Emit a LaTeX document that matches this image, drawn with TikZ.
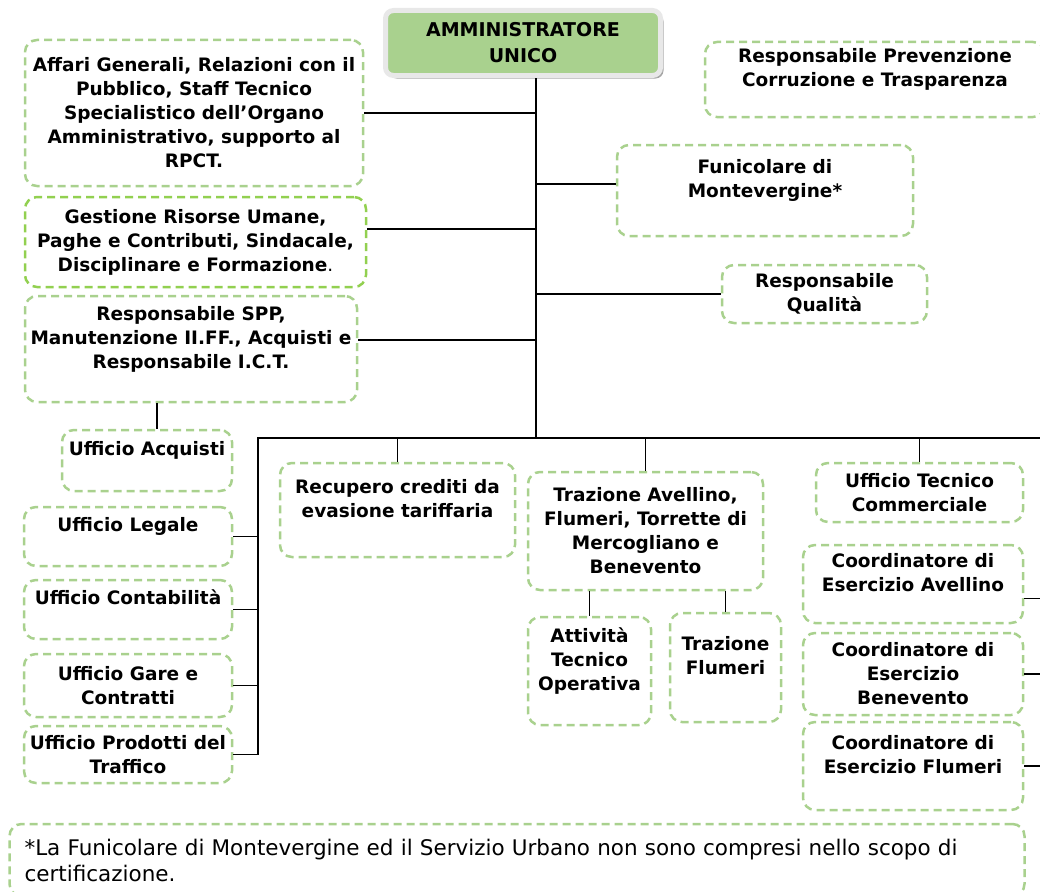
\documentclass[tikz,border=0pt]{standalone}
\usepackage{fontspec}
\setmainfont{DejaVu Sans}
\usetikzlibrary{positioning,calc,shadows}
\definecolor{unitgreen}{RGB}{169,209,142}
\definecolor{brightgreen}{RGB}{146,208,80}
\definecolor{framegray}{RGB}{232,232,232}
\definecolor{shadegray}{RGB}{165,165,165}

\begin{document}
\begin{tikzpicture}[x=1pt, y=-1pt,
    unit/.style={draw=unitgreen, line width=2.5pt, dash pattern=on 8pt off 5pt,
      rounded corners=12pt, align=center, inner sep=0pt,
      font=\fontsize{18.5}{24}\selectfont\bfseries},
    link/.style={line width=1.8pt}]
    \useasboundingbox (0,0) rectangle (1040,891);

    % head of the company
    \node[draw=framegray, fill=unitgreen, line width=5pt, rounded corners=8pt,
      minimum width=275, minimum height=65, align=center,
      font=\fontsize{19}{26}\selectfont\bfseries,
      drop shadow={shadow xshift=3pt, shadow yshift=-3pt, fill=shadegray, opacity=1}]
      (admin) at (523,43) {AMMINISTRATORE\\UNICO};

    % staff units
    \node[unit, minimum width=338, minimum height=146] (affari) at (194,113)
      {Affari Generali, Relazioni con il\\Pubblico, Staff Tecnico\\Specialistico dell’Organo\\Amministrativo, supporto al\\RPCT.};
    \node[unit, draw=brightgreen, minimum width=341, minimum height=90] (gestione) at (195.5,242)
      {Gestione Risorse Umane,\\Paghe e Contributi, Sindacale,\\Disciplinare e Formazione\textmd{.}};
    \node[unit, minimum width=332, minimum height=106] (spp) at (191,349)
      {Responsabile SPP,\\Manutenzione II.FF., Acquisti e\\Responsabile I.C.T.\\\mbox{}};
    \node[unit, minimum width=170, minimum height=61] (acquisti) at (147,460.5)
      {Ufficio Acquisti\\\mbox{}};
    \node[unit, minimum width=340, minimum height=75] (rpct) at (875,79.5)
      {Responsabile Prevenzione\\Corruzione e Trasparenza\\\mbox{}};
    \node[unit, minimum width=296, minimum height=91] (funicolare) at (765,190.5)
      {Funicolare di\\Montevergine*\\\mbox{}};
    \node[unit, minimum width=205, minimum height=58] (qualita) at (824.5,294)
      {Responsabile\\Qualità};

    % line units
    \node[unit, minimum width=235, minimum height=94] (recupero) at (397.5,510)
      {Recupero crediti da\\evasione tariffaria\\\mbox{}};
    \node[unit, minimum width=235, minimum height=118] (trazav) at (645.5,531)
      {Trazione Avellino,\\Flumeri, Torrette di\\Mercogliano e\\Benevento};
    \node[unit, minimum width=123, minimum height=108] (attivita) at (589.5,671)
      {Attività\\Tecnico\\Operativa\\\mbox{}};
    \node[unit, minimum width=111, minimum height=109] (trazfl) at (725.5,667.5)
      {Trazione\\Flumeri\\\mbox{}};
    \node[unit, minimum width=207, minimum height=59] (utc) at (919.5,492.5)
      {Ufficio Tecnico\\Commerciale};
    \node[unit, minimum width=220, minimum height=78] (coordav) at (913,584)
      {Coordinatore di\\Esercizio Avellino\\\mbox{}};
    \node[unit, minimum width=220, minimum height=82] (coordbn) at (913,674)
      {Coordinatore di\\Esercizio\\Benevento};
    \node[unit, minimum width=220, minimum height=88] (coordfl) at (913,766)
      {Coordinatore di\\Esercizio Flumeri\\\mbox{}};

    % offices on the left
    \node[unit, minimum width=208, minimum height=59] (legale) at (128,536.5)
      {Ufficio Legale\\\mbox{}};
    \node[unit, minimum width=208, minimum height=59] (contab) at (128,609.5)
      {Ufficio Contabilità\\\mbox{}};
    \node[unit, minimum width=208, minimum height=63] (gare) at (128,685.5)
      {Ufficio Gare e\\Contratti};
    \node[unit, minimum width=208, minimum height=57] (prodotti) at (128,754.5)
      {Ufficio Prodotti del\\Traffico};

    % footnote
    \node[unit, align=left, text width=985, inner xsep=15pt, minimum height=72,
      font=\fontsize{21.5}{26}\selectfont\mdseries] (note) at (517,860)
      {*La Funicolare di Montevergine ed il Servizio Urbano non sono compresi nello scopo di\\certificazione.};

    \coordinate (trunk) at (536,438);
    \coordinate (busL) at (258,438);
    \coordinate (busR) at (1040,438);
    \coordinate (rbus) at (1040,600);
    \coordinate (gesOut) at ($(gestione.north east)!0.36!(gestione.south east)$);
    \coordinate (sppOut) at ($(spp.north east)!0.42!(spp.south east)$);
    \coordinate (funIn) at ($(funicolare.north west)!0.43!(funicolare.south west)$);
    \coordinate (avOut) at ($(coordav.north east)!0.68!(coordav.south east)$);

    \draw[link] (admin.south -| trunk) -- (trunk);
    \draw[link] (affari.east) -- (affari.east -| trunk);
    \draw[link] (gesOut) -- (gesOut -| trunk);
    \draw[link] (sppOut) -- (sppOut -| trunk);
    \draw[link] (funIn) -- (funIn -| trunk);
    \draw[link] (qualita.west) -- (qualita.west -| trunk);
    \draw[link] ([xshift=10pt]acquisti.north) -- ([xshift=10pt]acquisti.north |- spp.south);

    % main bus
    \draw[link] (busR) -- (busL) |- (prodotti.east);
    \foreach \n in {legale,contab,gare}
      \draw[link] (\n.east) -- (\n.east -| busL);
    \foreach \n in {recupero,trazav,utc}
      \draw[link] (\n.north) -- (\n.north |- busL);
    \foreach \n in {attivita,trazfl}
      \draw[link] (\n.north) -- (\n.north |- trazav.south);
    \draw[link] (avOut) -- (avOut -| rbus);
    \foreach \n in {coordbn,coordfl}
      \draw[link] (\n.east) -- (\n.east -| rbus);
\end{tikzpicture}
\end{document}
